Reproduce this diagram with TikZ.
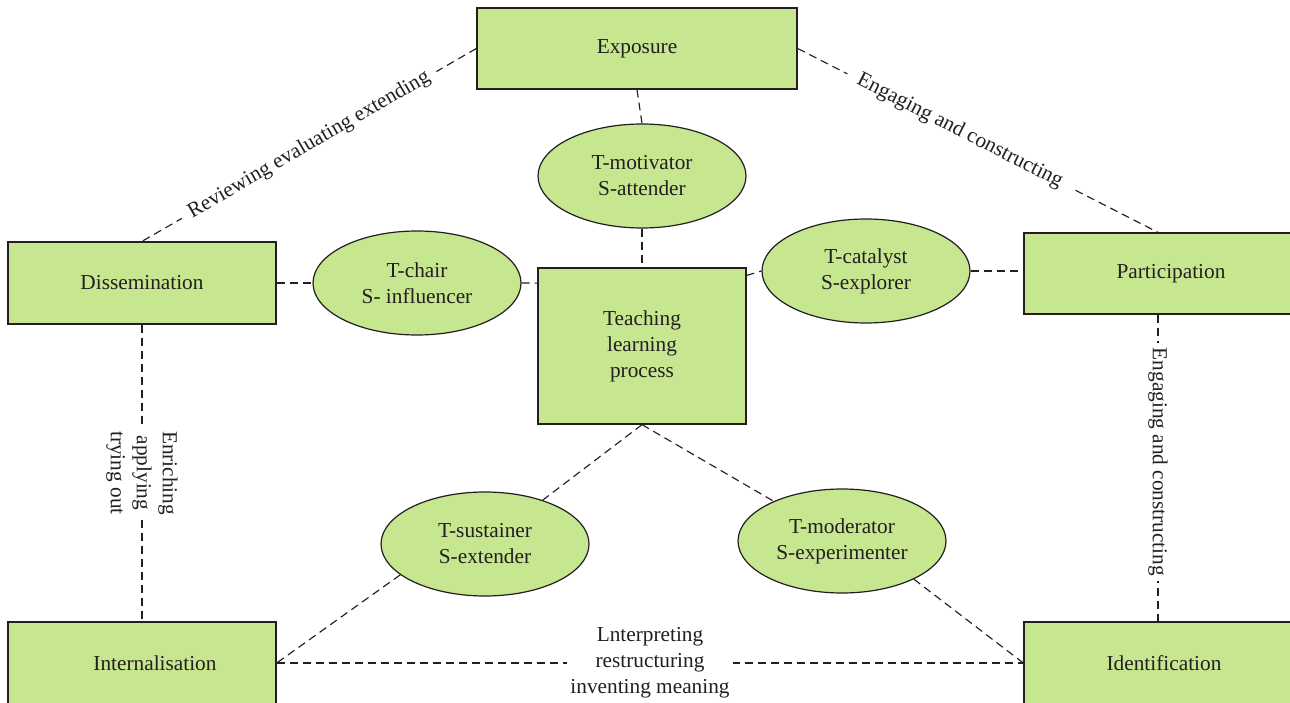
\documentclass[tikz,border=0pt]{standalone}
\usepackage{fontspec}
\setmainfont{Liberation Serif}
\usetikzlibrary{shapes.geometric}
\definecolor{boxfill}{HTML}{C6E690}
\definecolor{inkc}{HTML}{231F20}
\begin{document}
\begin{tikzpicture}[x=1pt,y=-1pt,
  every node/.style={font=\fontsize{21.3}{26}\selectfont, text=inkc},
  boxnode/.style={draw=inkc, line width=1.3pt, fill=boxfill, rectangle, inner sep=0pt, align=center},
  ellnode/.style={draw=inkc, line width=1.2pt, fill=boxfill, ellipse, inner sep=0pt, align=center,
    minimum width=208pt, minimum height=104pt},
  conn/.style={draw=inkc, line width=1.15pt, dash pattern=on 8pt off 5pt},
  lbl/.style={fill=white, inner sep=5pt, align=center},
  plain/.style={inner sep=0pt}]
\useasboundingbox (0,0) rectangle (1290,703);

% boxes
\node[boxnode, minimum width=320pt, minimum height=81pt] (expo) at (637,48.5) {Exposure};
\node[boxnode, minimum width=268pt, minimum height=82pt] (diss) at (142,283) {Dissemination};
\node[boxnode, minimum width=268pt, minimum height=81pt] (part) at (1158,273.5) {};
\node[plain] (parttxt) at (1171,273.5) {Participation};
\node[boxnode, minimum width=268pt, minimum height=82pt] (intern) at (142,663) {};
\node[plain] (interntxt) at (155,663) {Internalisation};
\node[boxnode, minimum width=268pt, minimum height=82pt] (ident) at (1158,663) {};
\node[plain] (identtxt) at (1164,663) {Identification};
\node[boxnode, minimum width=208pt, minimum height=156pt] (teach) at (642,346) {Teaching\\learning\\process};

% ellipses
\node[ellnode] (mot) at (642,176) {T-motivator\\S-attender};
\node[ellnode] (chair) at (417,283) {T-chair\\S- influencer};
\node[ellnode] (cat) at (866,271) {T-catalyst\\S-explorer};
\node[ellnode] (sust) at (485,544) {T-sustainer\\S-extender};
\node[ellnode] (mod) at (842,541) {T-moderator\\S-experimenter};

% connectors
\draw[conn] (expo.west) -- node[lbl, sloped, inner xsep=9pt] {Reviewing evaluating extending} (diss.north);
\draw[conn] (expo.east) -- node[lbl, sloped, pos=0.45, inner xsep=12pt] {Engaging and constructing} (part.north);
\draw[conn] (expo.south) -- (mot.north);
\draw[conn] (mot.south) -- (teach.north);
\draw[conn] (diss.east) -- (chair.west);
\draw[conn] (chair.east) -- (teach.149);
\draw[conn] (teach.34) -- (cat.west);
\draw[conn] (cat.east) -- (cat.east -| part.west);
\draw[conn] (diss.south) -- node[lbl, rotate=-90] {Enriching\\applying\\trying out} (intern.north);
\draw[conn] (part.south) -- node[lbl, rotate=-90, pos=0.48] {Engaging and constructing} (ident.north);
\draw[conn] (teach.south) -- (sust);
\draw[conn] (teach.south) -- (mod);
\draw[conn] (sust.200) -- (intern.east);
\draw[conn] (mod.332) -- (ident.west);
\draw[conn] (intern.east) -- node[lbl, inner sep=3pt] {Lnterpreting\\restructuring\\inventing meaning} (ident.west);
\end{tikzpicture}
\end{document}
